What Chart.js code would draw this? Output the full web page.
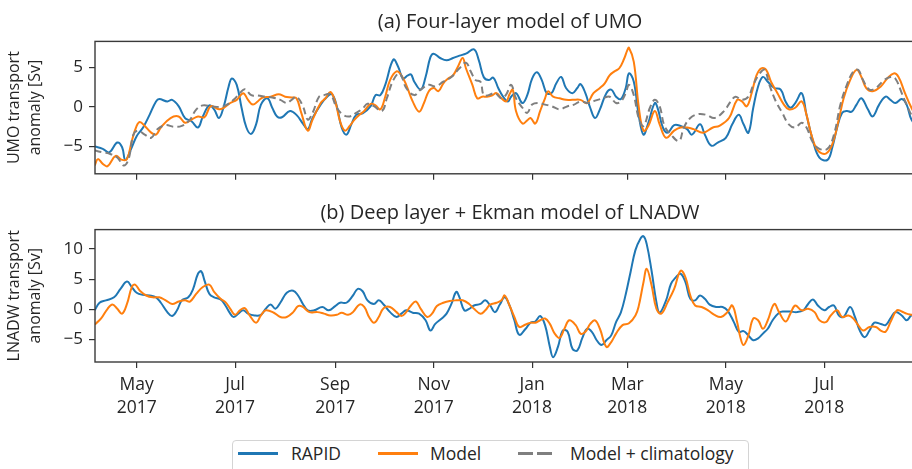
<!DOCTYPE html>
<html>
<head>
<meta charset="utf-8">
<script src="https://cdn.jsdelivr.net/npm/chart.js@4.4.1/dist/chart.umd.min.js"></script>
<style>
  html, body { margin: 0; padding: 0; background: #fff; overflow: hidden; }
  body { width: 912px; height: 469px; position: relative; font-family: "Open Sans", sans-serif; color: #262626; }
  canvas { position: absolute; left: 0; }
  #chartA { top: 0; }
  #chartB { top: 188px; }
  .legend-box { position: absolute; left: 232px; top: 440px; width: 515px; height: 40px; border: 1px solid #d4d4d4; border-radius: 4px; }
  .handle { position: absolute; height: 0; border-top: 3px solid; }
  .label { position: absolute; font-size: 17.5px; line-height: 20px; top: 443px; white-space: nowrap; }
</style>
</head>
<body>
<canvas id="chartA" width="925" height="190"></canvas>
<canvas id="chartB" width="925" height="242"></canvas>

<div class="legend-box"></div>
<div class="handle" style="left:238px;top:452px;width:40px;border-color:#1f77b4"></div>
<div class="label" style="left:291px">RAPID</div>
<div class="handle" style="left:378px;top:452px;width:40px;border-color:#ff7f0e"></div>
<div class="label" style="left:430px">Model</div>
<div class="handle" style="left:518px;top:452px;width:15px;border-color:#7f7f7f"></div>
<div class="handle" style="left:537px;top:452px;width:15px;border-color:#7f7f7f"></div>
<div class="label" style="left:570px">Model + climatology</div>

<script>
// x values are days since 1 May 2017
const tickDays = [0, 61, 123, 184, 245, 304, 365, 426];
const tickLabels = [["May", "2017"], ["Jul", "2017"], ["Sep", "2017"], ["Nov", "2017"],
                    ["Jan", "2018"], ["Mar", "2018"], ["May", "2018"], ["Jul", "2018"]];
const ticksA = [-5, 0, 5];
const ticksB = [-5, 0, 5, 10];

// (a) UMO transport anomaly [Sv], pairs of [day, value]
const rapidA = [[-26,-5.0],[-21,-5.3],[-17,-5.75],[-12,-4.5],[-9,-5.1],[-7,-6.7],[-3,-5.1],[0,-3.7],[4,-2.6],[8,-1.0],
  [12,0.7],[14,1.0],[19,0.7],[22,0.9],[26,0.1],[30,-1.4],[34,-1.8],[38,-2.6],[41,-1.2],[45,0.2],[48,-0.3],[51,-1.4],
  [54,0.1],[57,2.6],[59,3.6],[62,2.8],[65,-0.1],[68,-2.6],[71,-3.4],[74,-2.2],[77,0.3],[81,1.1],[84,-0.1],[87,-1.2],
  [90,-1.3],[95,-0.5],[99,-1.0],[103,-2.1],[106,-2.8],[109,-1.4],[114,0.3],[118,1.3],[121,1.6],[124,0.1],[127,-2.6],
  [130,-3.5],[133,-2.2],[136,-1.0],[140,-0.8],[145,0.1],[148,1.5],[151,1.5],[154,2.8],[159,6.0],[162,5.1],[165,3.6],
  [168,4.0],[170,4.1],[172,3.2],[176,2.2],[179,3.8],[182,6.3],[184,6.75],[188,6.2],[192,5.9],[196,6.2],[200,6.5],
  [204,6.75],[209,7.3],[212,5.9],[215,3.8],[218,3.4],[221,3.7],[224,2.4],[227,1.3],[230,0.7],[232,1.3],[235,1.75],
  [239,0.5],[242,1.5],[245,3.6],[248,4.4],[251,3.4],[254,1.75],[257,1.75],[260,3.0],[263,3.8],[266,2.4],[270,1.75],
  [273,2.4],[275,2.9],[278,1.75],[281,-0.1],[284,-1.4],[287,-0.3],[291,1.75],[294,2.2],[297,1.3],[300,1.0],[303,2.4],
  [305,4.25],[308,3.2],[311,-1.0],[314,-3.5],[317,-2.0],[321,0.5],[323,-0.3],[326,-2.6],[329,-3.25],[333,-2.3],
  [337,-2.4],[341,-2.8],[344,-3.5],[349,-2.2],[352,-3.5],[356,-4.9],[360,-4.5],[365,-3.9],[369,-2.2],[373,-1.0],
  [376,-2.2],[379,-3.25],[382,-0.1],[385,2.6],[388,3.8],[391,3.2],[395,2.4],[399,2.2],[402,0.7],[405,-0.1],[408,0.5],
  [412,1.75],[415,-1.0],[419,-4.3],[423,-6.4],[428,-6.7],[431,-5.1],[434,-2.6],[437,-0.75],[440,-0.5],[443,-0.6],
  [446,0.3],[449,1.1],[453,-0.3],[456,-1.2],[460,0.3],[464,1.3],[467,0.9],[470,0.5],[474,1.0],[477,0.3],[480,-1.6],[485,-3.0]];

const modelA = [[-26,-7.4],[-24,-6.6],[-21,-7.2],[-18,-7.5],[-13,-6.2],[-9,-6.7],[-6,-6.6],[-3,-4.3],[0,-2.4],[2,-1.9],
  [5,-2.4],[9,-3.25],[12,-3.5],[15,-2.6],[21,-1.4],[26,-1.2],[30,-2.0],[34,-1.6],[38,-1.2],[42,-1.3],[46,0.1],[51,-0.3],
  [54,-0.1],[58,0.5],[62,0.9],[66,1.75],[69,0.9],[72,0.3],[75,0.7],[78,1.2],[83,1.3],[88,1.6],[92,1.3],[96,1.2],
  [99,1.1],[102,-0.75],[106,-3.0],[109,-1.6],[114,0.5],[117,1.1],[120,1.9],[123,0.7],[126,-1.8],[129,-3.0],[132,-2.4],
  [135,-1.6],[138,-1.0],[141,-0.5],[145,0.4],[148,0.2],[151,-0.3],[154,1.3],[157,3.4],[161,4.5],[164,4.0],[167,2.8],
  [171,0.7],[175,-0.6],[178,0.5],[181,2.0],[184,2.4],[187,2.0],[190,3.0],[193,3.6],[196,4.0],[199,5.1],[202,6.2],
  [204,4.9],[208,2.8],[211,1.1],[214,1.3],[217,1.3],[220,1.45],[223,1.75],[226,1.1],[229,0.7],[231,1.6],[233,2.2],
  [235,-0.5],[239,-2.1],[242,-1.7],[244,-1.4],[247,-2.1],[250,-0.5],[253,1.1],[255,2.0],[258,1.3],[262,1.1],[266,0.9],
  [270,0.9],[275,0.9],[279,0.5],[283,1.75],[287,2.4],[290,3.0],[293,4.0],[296,4.5],[299,4.9],[302,6.1],[304,7.2],
  [305,7.5],[308,5.7],[311,0.1],[314,-3.0],[317,-2.4],[321,-0.5],[324,-2.2],[328,-3.9],[333,-3.0],[337,-2.6],[341,-2.6],
  [345,-2.8],[351,-3.25],[357,-2.6],[361,-2.4],[367,-1.4],[372,0.9],[375,0.7],[378,0.1],[381,1.75],[384,4.0],[387,4.9],
  [390,4.7],[393,3.2],[397,1.75],[401,0.3],[404,-0.3],[408,-0.1],[412,0.7],[415,-1.0],[418,-3.5],[422,-5.5],[427,-5.9],
  [431,-4.7],[435,-1.6],[438,1.1],[442,3.4],[446,4.7],[449,3.8],[452,2.4],[456,2.0],[461,2.6],[465,3.6],[469,4.25],
  [472,3.8],[476,1.75],[480,-0.1],[485,-2.0]];

const climA = [[-26,-5.5],[-21,-5.75],[-17,-5.9],[-12,-6.4],[-8,-7.4],[-5,-6.6],[-2,-3.5],[1,-3.0],[5,-3.5],[9,-3.9],
  [13,-2.8],[18,-2.3],[23,-2.5],[28,-2.4],[33,-1.6],[37,-0.3],[41,0.2],[46,0.1],[52,0.0],[56,0.3],[60,0.9],[64,1.75],
  [67,2.25],[71,1.5],[75,1.45],[80,1.3],[84,1.2],[89,0.9],[93,0.5],[96,0.9],[99,1.3],[103,0.1],[106,-1.6],[109,-0.75],
  [113,1.3],[116,1.5],[120,1.6],[124,-0.1],[128,-1.0],[132,-1.2],[136,-0.75],[140,-0.2],[143,0.4],[147,0.1],[152,-0.5],
  [155,1.1],[159,3.4],[163,4.25],[167,2.4],[172,1.5],[176,2.2],[181,2.8],[185,2.6],[190,3.2],[195,3.8],[200,4.9],
  [204,5.6],[207,4.5],[210,3.4],[213,3.2],[215,1.5],[218,1.5],[222,1.75],[226,1.1],[229,1.6],[232,2.8],[235,1.1],
  [239,-0.1],[242,-0.75],[245,0.3],[249,0.5],[253,0.3],[257,0.1],[262,-0.3],[267,0.1],[271,0.3],[275,0.7],[280,0.5],
  [284,0.8],[289,1.1],[293,1.3],[297,0.5],[300,0.7],[303,1.75],[305,2.8],[308,1.5],[311,-1.4],[314,-2.4],[318,-0.1],
  [321,0.9],[324,0.1],[327,-2.4],[331,-3.5],[336,-4.3],[339,-2.6],[343,-1.4],[348,-0.9],[353,-1.0],[358,-1.4],[364,-0.5],
  [368,0.7],[371,1.3],[375,0.9],[379,1.3],[382,2.8],[386,4.25],[389,4.7],[392,2.8],[396,0.7],[400,-0.75],[404,-2.2],
  [408,-2.6],[412,-2.0],[415,-2.6],[419,-4.5],[423,-5.3],[428,-5.3],[432,-3.5],[436,0.3],[440,2.8],[444,4.5],[447,4.7],
  [450,3.4],[454,2.2],[458,2.4],[463,3.4],[467,3.8],[470,3.6],[474,1.75],[477,0.3],[480,-1.0],[485,-2.5]];

// (b) LNADW transport anomaly [Sv], pairs of [day, value]
const rapidB = [[-26,-0.15],[-23,1.1],[-19,1.5],[-14,2.0],[-10,3.4],[-6,4.6],[-3,3.7],[0,2.75],[4,2.4],[8,2.3],[12,2.0],
  [15,1.1],[19,-0.45],[22,-1.1],[25,-0.15],[28,1.5],[32,2.0],[35,3.4],[38,5.9],[40,6.3],[42,4.8],[45,2.6],[48,2.0],
  [52,1.65],[55,0.65],[58,-0.7],[60,-1.25],[63,-0.7],[66,-0.15],[69,-0.7],[73,-1.0],[77,-0.9],[80,0.1],[83,0.8],
  [86,0.1],[89,1.1],[93,2.75],[97,3.1],[100,2.3],[103,0.9],[106,-0.15],[110,-0.15],[115,0.4],[119,-0.15],[123,0.55],
  [126,1.1],[130,1.1],[134,2.3],[137,3.4],[140,3.0],[143,1.5],[147,0.9],[150,1.5],[153,0.8],[157,-0.45],[161,-1.25],
  [164,-0.7],[167,-0.15],[171,-0.55],[175,-0.7],[179,-1.8],[182,-3.5],[185,-2.4],[189,-1.5],[192,-0.7],[195,0.9],
  [198,2.9],[200,2.0],[203,-0.15],[206,0.1],[209,0.65],[213,0.9],[216,1.5],[219,0.65],[222,-0.45],[225,0.8],[228,2.0],
  [231,0.65],[234,-1.8],[237,-4.2],[241,-3.2],[244,-2.2],[247,-2.0],[250,-1.1],[253,-2.6],[256,-6.2],[258,-7.9],
  [261,-6.2],[264,-3.5],[267,-3.7],[270,-6.5],[273,-6.8],[276,-4.8],[279,-3.2],[282,-3.7],[285,-5.1],[288,-5.9],
  [291,-5.1],[294,-4.3],[297,-2.1],[300,-0.5],[303,2.5],[306,6.2],[309,9.8],[312,11.65],[314,12.1],[316,10.8],[319,6.4],
  [322,1.2],[324,-0.55],[328,1.5],[331,4.2],[334,5.3],[337,5.9],[340,4.5],[343,1.75],[346,1.5],[349,2.3],[352,1.75],
  [355,0.8],[359,0.4],[363,0.4],[366,-0.15],[370,-2.1],[373,-3.7],[376,-3.6],[379,-4.3],[382,-5.1],[385,-4.8],
  [388,-4.0],[391,-3.2],[394,-1.8],[398,-0.55],[401,-0.35],[405,-0.35],[409,-0.45],[413,-0.15],[416,0.9],[419,1.65],
  [422,0.65],[426,-0.15],[429,0.4],[432,0.65],[435,-1.0],[438,-1.25],[442,0.4],[445,-1.25],[448,-3.5],[451,-4.6],
  [454,-3.5],[457,-2.2],[461,-2.4],[464,-2.6],[467,-1.5],[470,-0.45],[474,-1.0],[477,-1.8],[480,-1.0],[485,-0.5]];

const modelB = [[-26,-2.5],[-22,-1.5],[-18,0.1],[-15,0.8],[-12,0.1],[-9,-0.7],[-6,0.9],[-3,3.7],[-1,4.1],[2,3.1],[6,2.3],
  [10,2.0],[14,2.0],[18,1.5],[22,0.9],[26,1.3],[30,1.5],[33,1.3],[37,2.6],[41,3.7],[45,4.1],[48,2.9],[52,1.75],[55,1.2],
  [58,0.1],[61,-0.9],[64,-0.15],[67,0.2],[70,-1.0],[74,-2.2],[77,-1.0],[80,-0.15],[85,-0.55],[89,-1.25],[93,-1.25],
  [97,-0.45],[100,0.55],[103,0.4],[107,-0.45],[112,-0.45],[116,-0.7],[120,-1.0],[124,-0.9],[127,-0.55],[131,-0.9],
  [134,-0.45],[138,0.8],[141,0.4],[144,-1.25],[147,-2.2],[150,-1.25],[153,0.2],[157,0.4],[161,-0.45],[164,-1.1],
  [167,-0.45],[170,0.65],[173,1.3],[176,0.1],[180,-1.25],[183,-0.7],[186,0.55],[190,1.1],[194,1.4],[198,1.5],[202,1.5],
  [206,0.9],[209,0.1],[213,-0.7],[216,-0.15],[219,0.8],[223,1.1],[226,1.5],[228,2.3],[231,0.65],[234,-1.25],[237,-2.9],
  [241,-2.5],[244,-2.2],[247,-2.2],[250,-1.8],[253,-1.5],[256,-2.4],[259,-4.0],[262,-4.7],[265,-3.2],[268,-1.8],
  [272,-2.6],[275,-4.0],[278,-3.7],[281,-2.4],[284,-1.8],[287,-3.2],[291,-6.2],[294,-5.4],[297,-4.0],[301,-2.6],
  [305,-2.3],[309,-1.0],[311,0.5],[314,4.5],[316,6.7],[319,4.0],[322,0.1],[325,-0.7],[329,1.2],[333,3.4],[337,6.4],
  [340,5.3],[343,2.3],[346,0.65],[350,0.4],[354,-0.15],[358,-0.9],[362,-1.25],[366,-0.45],[369,0.65],[372,-2.1],
  [374,-4.6],[376,-5.9],[379,-4.3],[382,-1.5],[385,-1.8],[388,-3.2],[391,-1.8],[395,0.9],[398,-0.45],[402,-2.0],
  [405,-0.7],[408,0.65],[412,-0.15],[416,0.1],[420,-0.45],[423,-1.8],[427,-2.1],[430,-1.0],[434,-0.15],[437,-1.25],
  [441,-1.0],[444,-1.5],[447,-2.6],[450,-3.5],[454,-2.9],[458,-2.9],[461,-3.5],[464,-3.7],[467,-2.1],[471,-0.15],
  [474,-0.35],[477,-0.7],[480,-0.9],[485,-1.2]];

Chart.defaults.font.family = "'Open Sans', sans-serif";
Chart.defaults.color = "#262626";

const framePlugin = {
  id: "frame",
  afterDatasetsDraw(chart) {
    const { ctx, chartArea: a } = chart;
    ctx.save();
    ctx.strokeStyle = "#3a3a3a";
    ctx.lineWidth = 1.4;
    ctx.strokeRect(a.left, a.top, a.right - a.left, a.bottom - a.top);
    ctx.restore();
  }
};

function toPoints(pairs) {
  return pairs.map(p => ({ x: p[0], y: p[1] }));
}

function line(label, pairs, color, order, dashed) {
  return {
    label: label,
    data: toPoints(pairs),
    borderColor: color,
    borderWidth: 2,
    borderDash: dashed ? [7, 4] : [],
    pointRadius: 0,
    tension: 0.4,
    order: order
  };
}

function makeChart(id, datasets, opts) {
  return new Chart(document.getElementById(id), {
    type: "line",
    data: { datasets: datasets },
    plugins: [framePlugin],
    options: {
      responsive: false,
      animation: false,
      devicePixelRatio: 1,
      layout: { padding: 0 },
      plugins: {
        legend: { display: false },
        tooltip: { enabled: false },
        title: {
          display: true,
          text: opts.title,
          fullSize: false,
          font: { size: 20, weight: "normal", lineHeight: 1.2 },
          color: "#262626",
          padding: opts.titlePad
        }
      },
      scales: {
        x: {
          type: "linear",
          min: -25.8,
          max: 488.4,
          afterBuildTicks: s => { s.ticks = tickDays.map(v => ({ value: v })); },
          afterFit: s => { s.height = opts.xHeight; },
          grid: { display: true, drawOnChartArea: false, drawTicks: true, tickLength: 6, color: "#333", lineWidth: 1.2 },
          border: { display: false },
          ticks: {
            display: opts.showX,
            autoSkip: false,
            maxRotation: 0,
            padding: 6,
            font: { size: 17.5, lineHeight: 1.3 },
            color: "#262626",
            callback: (v, i) => tickLabels[i]
          }
        },
        y: {
          min: opts.yMin,
          max: opts.yMax,
          afterBuildTicks: s => { s.ticks = opts.yTicks.map(v => ({ value: v })); },
          afterFit: s => { s.width = 95; },
          grid: { display: true, drawOnChartArea: false, drawTicks: true, tickLength: 6, color: "#333", lineWidth: 1.2 },
          border: { display: false },
          ticks: {
            padding: 6,
            font: { size: 17 },
            color: "#262626",
            callback: v => (v < 0 ? "\u2212" + Math.abs(v) : String(v))
          },
          title: {
            display: true,
            text: opts.yTitle,
            font: { size: 16, lineHeight: 1.3 },
            color: "#262626",
            padding: { top: 4, bottom: 0 }
          }
        }
      }
    }
  });
}

makeChart("chartA", [
  line("RAPID", rapidA, "#1f77b4", 3, false),
  line("Model", modelA, "#ff7f0e", 2, false),
  line("Model + climatology", climA, "#7f7f7f", 1, true)
], {
  title: "(a) Four-layer model of UMO",
  titlePad: { top: 10, bottom: 7.4 },
  xHeight: 15,
  showX: false,
  yMin: -8.46, yMax: 8.3,
  yTicks: ticksA,
  yTitle: ["UMO transport", "anomaly [Sv]"]
});

makeChart("chartB", [
  line("RAPID", rapidB, "#1f77b4", 2, false),
  line("Model", modelB, "#ff7f0e", 1, false)
], {
  title: "(b) Deep layer + Ekman model of LNADW",
  titlePad: { top: 13, bottom: 4.6 },
  xHeight: 68,
  showX: true,
  yMin: -8.7, yMax: 13.2,
  yTicks: ticksB,
  yTitle: ["LNADW transport", "anomaly [Sv]"]
});
</script>
</body>
</html>
